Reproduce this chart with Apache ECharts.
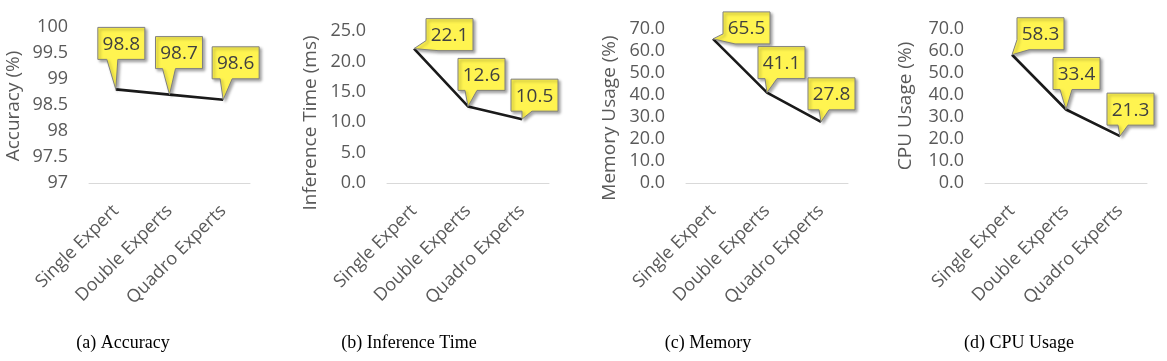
<!DOCTYPE html>
<html>
<head>
<meta charset="utf-8">
<script src="https://cdn.jsdelivr.net/npm/echarts@6/dist/echarts.min.js"></script>
<style>html,body{margin:0;padding:0;background:#fff;}#c{width:1167px;height:361px;}</style>
</head>
<body>
<div id="c"></div>
<script>
// ---- data ----
const categories = ['Single Expert', 'Double Experts', 'Quadro Experts'];
const accuracy = [98.8, 98.7, 98.6];
const inferenceTime = [22.1, 12.6, 10.5];
const memoryUsage = [65.5, 41.1, 27.8];
const cpuUsage = [58.3, 33.4, 21.3];
const axisNames = ['Accuracy (%)', 'Inference Time (ms)', 'Memory Usage (%)', 'CPU Usage (%)'];
const captions = ['(a) Accuracy', '(b) Inference Time', '(c) Memory', '(d) CPU Usage'];
const yMin = [97, 0, 0, 0];
const yMax = [100, 25, 70, 70];
const yStep = [0.5, 5, 10, 10];

// ---- layout / style ----
const panels = [accuracy, inferenceTime, memoryUsage, cpuUsage];
const grids = [
  {left: 89, top: 27, width: 161, height: 156},
  {left: 387, top: 31, width: 162, height: 152},
  {left: 686, top: 29, width: 162, height: 154},
  {left: 985, top: 29, width: 162, height: 154}
];
const nameGaps = [66, 67, 67, 70];
const nameShift = [2, 32, 24, 0];
const captionX = [123, 409, 708, 1019];
// callout offsets relative to the point: [dx, dy, kind, tailA, tailB]
const calloutStyle = [
  [[-18, -62, 'b', 9, 20], [-14, -58, 'b', 7, 20], [-11, -53, 'b', 8, 20]],
  [[12, -30, 'c'], [-10, -48, 'b', 7, 19], [-11, -40, 'b', 11, 21]],
  [[10, -27, 'c'], [-9, -46, 'b', 7, 19], [-13, -44, 'b', 11, 21]],
  [[5, -37, 'c'], [-13, -52, 'b', 7, 19], [-13, -43, 'b', 11, 21]]
];
const BOX_W = 47, BOX_H = 32;
const FONT = '"Open Sans", "Noto Sans", sans-serif';

function makeRender(pi) {
  return function (params, api) {
    const i = api.value(0), v = api.value(1);
    const p = api.coord([i, v]);
    const s = calloutStyle[pi][i];
    const bx = p[0] + s[0], by = p[1] + s[1];
    const w = BOX_W, h = BOX_H;
    let pts;
    if (s[2] === 'b') {
      pts = [[bx, by], [bx + w, by], [bx + w, by + h], [bx + s[4], by + h], [p[0], p[1]], [bx + s[3], by + h], [bx, by + h]];
    } else {
      pts = [[bx, by], [bx + w, by], [bx + w, by + h], [bx + 12, by + h], [p[0], p[1]], [bx, by + h - 10]];
    }
    return {
      type: 'group',
      children: [
        {type: 'polygon', shape: {points: pts},
          style: {fill: '#FFF450', stroke: '#808080', lineWidth: 1,
            shadowBlur: 3, shadowOffsetX: 2, shadowOffsetY: 2, shadowColor: 'rgba(0,0,0,0.35)'}},
        {type: 'text', style: {text: v.toFixed(1), x: bx + w / 2, y: by + h / 2 + 1,
          align: 'center', verticalAlign: 'middle', font: '19px ' + FONT, fill: '#404040'}}
      ]
    };
  };
}

const option = {
  animation: false,
  backgroundColor: '#fff',
  grid: grids,
  xAxis: grids.map((g, i) => ({
    type: 'category', gridIndex: i, data: categories, boundaryGap: true,
    axisLine: {lineStyle: {color: '#D9D9D9', width: 1}},
    axisTick: {show: false},
    axisLabel: {rotate: 45, color: '#595959', fontSize: 18, fontFamily: FONT, margin: 25,
      interval: 0}
  })),
  yAxis: grids.map((g, i) => ({
    type: 'value', gridIndex: i, min: yMin[i], max: yMax[i], interval: yStep[i],
    name: axisNames[i], nameLocation: 'middle', nameGap: nameGaps[i], nameRotate: 90,
    nameTextStyle: {color: '#595959', fontSize: 19, fontFamily: FONT, padding: [0, nameShift[i], 0, 0]},
    axisLine: {show: false}, axisTick: {show: false}, splitLine: {show: false},
    axisLabel: {color: '#595959', fontSize: 18, fontFamily: FONT, margin: 21,
      formatter: i === 0 ? (v => String(v)) : (v => v.toFixed(1))}
  })),
  series: [].concat(
    panels.map((d, i) => ({
      type: 'line', xAxisIndex: i, yAxisIndex: i, data: d, symbol: 'none',
      lineStyle: {color: '#1A1A1A', width: 2.6}
    })),
    panels.map((d, i) => ({
      type: 'custom', xAxisIndex: i, yAxisIndex: i, z: 10,
      data: d.map((v, k) => [k, v]),
      renderItem: makeRender(i)
    }))
  ),
  graphic: captions.map((t, i) => ({
    type: 'text', x: captionX[i], y: 343,
    style: {text: t, font: '18px "Liberation Serif", "Times New Roman", serif', fill: '#000',
      align: 'center', verticalAlign: 'middle'}
  }))
};

const chart = echarts.init(document.getElementById('c'), null, {renderer: 'canvas'});
chart.setOption(option);
</script>
</body>
</html>
